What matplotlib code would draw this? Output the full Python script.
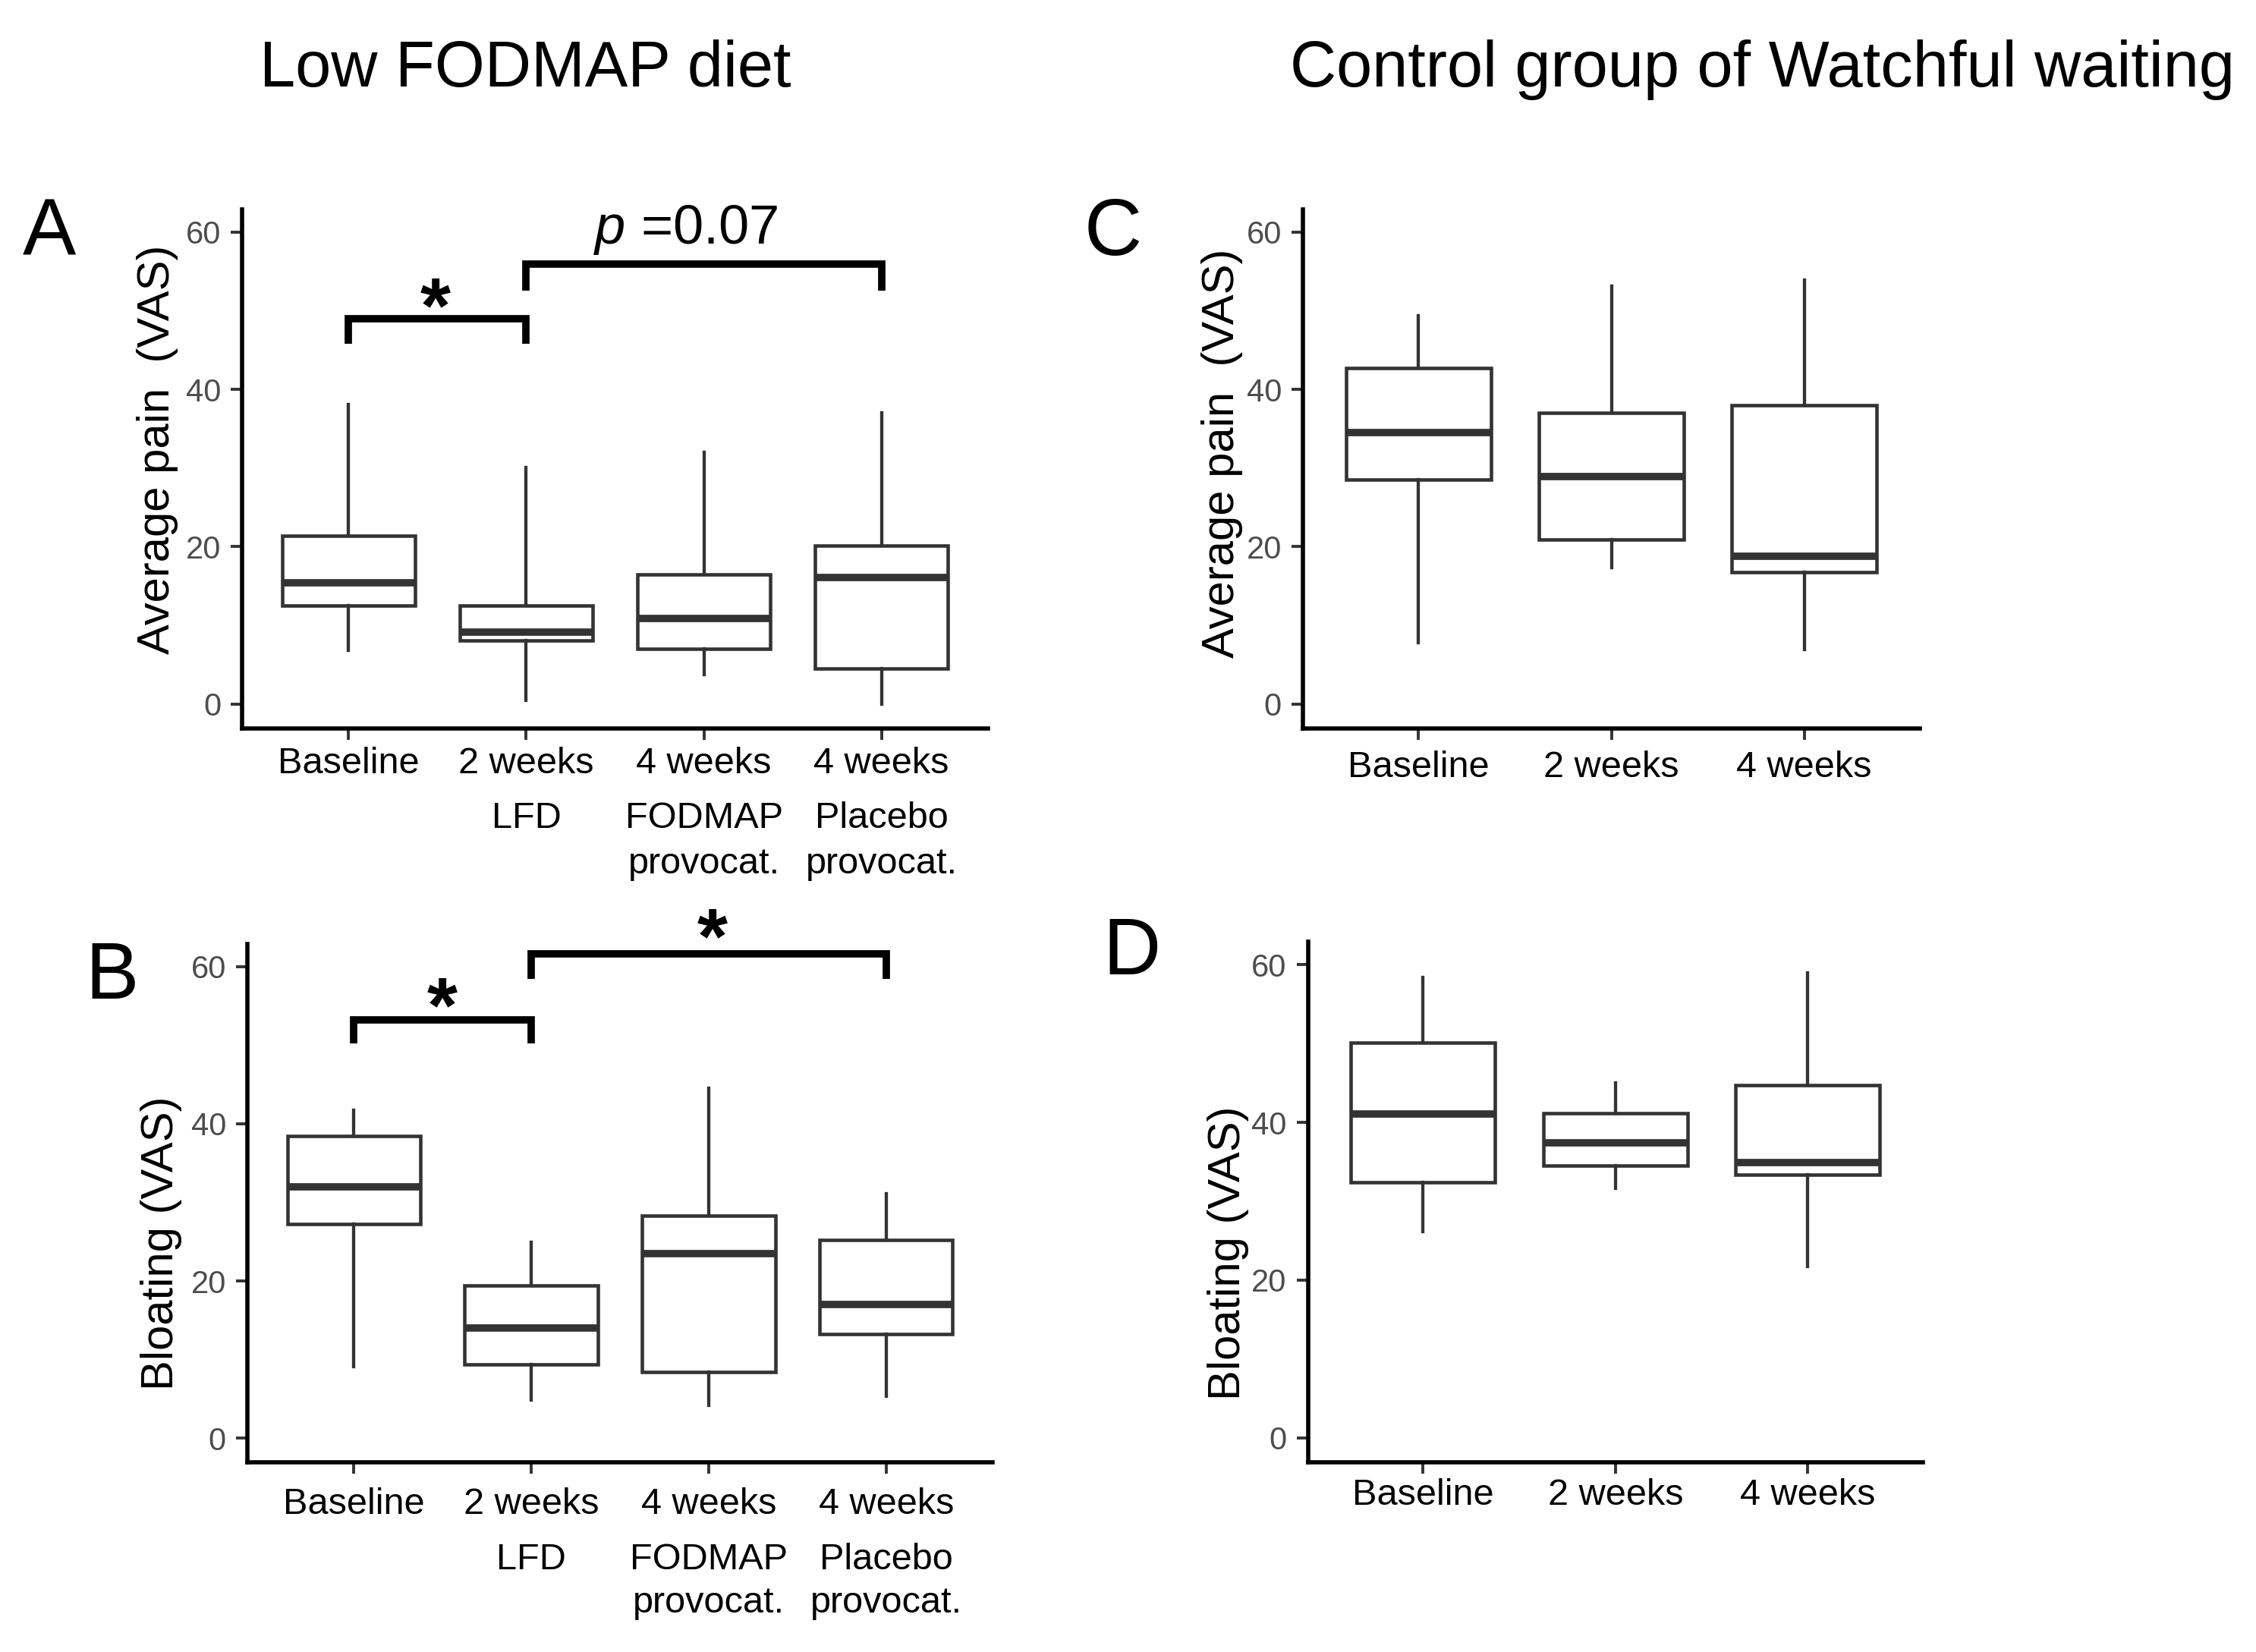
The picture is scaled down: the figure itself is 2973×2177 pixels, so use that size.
import matplotlib
matplotlib.use("Agg")
import matplotlib.pyplot as plt
from matplotlib.transforms import blended_transform_factory, offset_copy

plt.rcParams['font.family'] = ['Liberation Sans', 'DejaVu Sans']
plt.rcParams['mathtext.fontset'] = 'custom'
plt.rcParams['mathtext.rm'] = 'Liberation Sans'
plt.rcParams['mathtext.it'] = 'Liberation Sans:italic'

# ---------------- data ----------------
lfd_top = ['Baseline', '2 weeks', '4 weeks', '4 weeks']
lfd_sub = [[], ['LFD'], ['FODMAP', 'provocat.'], ['Placebo', 'provocat.']]
ww_labels = ['Baseline', '2 weeks', '4 weeks']

# each group: [whisker low, Q1, median, Q3, whisker high]
pain_lfd = [[6.8, 12.5, 15.4, 21.4, 38.1],
            [0.5, 8.1, 9.1, 12.5, 30.1],
            [3.7, 7.0, 10.9, 16.5, 32.0],
            [0.0, 4.5, 16.1, 20.1, 37.0]]
bloat_lfd = [[9.1, 27.3, 32.0, 38.5, 41.7],
             [4.9, 9.4, 14.0, 19.4, 24.9],
             [4.2, 8.4, 23.5, 28.3, 44.5],
             [5.3, 13.3, 17.0, 25.2, 31.1]]
pain_ww = [[7.8, 28.5, 34.5, 42.7, 49.4],
           [17.3, 20.9, 28.9, 37.0, 53.1],
           [6.9, 16.8, 18.8, 38.0, 53.9]]
bloat_ww = [[26.1, 32.4, 41.1, 50.1, 58.4],
            [31.6, 34.5, 37.4, 41.2, 45.0],
            [21.7, 33.4, 34.9, 44.7, 59.0]]

y_ticks = [0, 20, 40, 60]

# significance brackets: (x1, x2, top, leg end)
brackets_A = [(1, 2, 49.0, 45.8), (2, 4, 55.9, 52.5)]
brackets_B = [(1, 2, 53.2, 50.2), (2, 4, 61.6, 58.4)]

# ---------------- figure ----------------
W, H = 2973, 2177
DPI = 100
fig = plt.figure(figsize=(W / DPI, H / DPI), dpi=DPI)
PX = 72.0 / DPI  # points per pixel

BOX_C = '#333333'


def rect(l, r, t, b):
    return [l / W, 1 - b / H, (r - l) / W, (b - t) / H]


def make_panel(r, data, labels, base_px, axis_px):
    ax = fig.add_axes(r)
    stats = [dict(whislo=g[0], q1=g[1], med=g[2], q3=g[3], whishi=g[4], fliers=[])
             for g in data]
    pos = list(range(1, len(data) + 1))
    ax.bxp(stats, positions=pos, widths=0.75, showfliers=False, showcaps=False,
           patch_artist=True,
           boxprops=dict(facecolor='white', edgecolor=BOX_C, linewidth=3.3),
           medianprops=dict(color=BOX_C, linewidth=7, solid_capstyle='butt'),
           whiskerprops=dict(color=BOX_C, linewidth=3.1))
    ax.set_xlim(0.4, len(data) + 0.6)
    ax.set_ylim(-3.1, 62.9)
    for s in ['top', 'right']:
        ax.spines[s].set_visible(False)
    for s in ['left', 'bottom']:
        ax.spines[s].set_linewidth(4.0)
        ax.spines[s].set_color('black')
    ax.set_yticks(y_ticks)
    ax.set_yticklabels([str(v) for v in y_ticks])
    ax.tick_params(axis='y', length=15 * PX, width=2.8, color=BOX_C,
                   labelsize=30, labelcolor='#4D4D4D', pad=13 * PX)
    ax.set_xticks(pos)
    ax.set_xticklabels(labels)
    ax.tick_params(axis='x', length=15 * PX, width=2.8, color=BOX_C,
                   labelsize=35, labelcolor='black',
                   pad=(base_px - axis_px - 15) * PX)
    for lbl in ax.get_xticklabels():
        lbl.set_va('baseline')
    return ax


def sub_lines(ax, subs, baselines):
    tr = blended_transform_factory(ax.transData, fig.transFigure)
    for i, lines in enumerate(subs):
        for j, line in enumerate(lines):
            ax.text(i + 1, 1 - baselines[j] / H, line, transform=tr,
                    ha='center', va='baseline', fontsize=35, color='black',
                    clip_on=False)


def draw_brackets(ax, brs):
    for x1, x2, top, leg in brs:
        ax.plot([x1, x1, x2, x2], [leg, top, top, leg], color='black',
                linewidth=7, solid_joinstyle='miter', solid_capstyle='butt',
                clip_on=False, zorder=5)


def star(ax, x, yc, fs=74):
    tr = offset_copy(ax.transData, fig=fig, y=-0.58 * fs, units='points')
    ax.text(x, yc, '*', transform=tr, ha='center', va='baseline',
            fontsize=fs, fontweight='bold', color='black', clip_on=False)


# Panel A
axA = make_panel(rect(319, 1302, 275.5, 960), pain_lfd, lfd_top, 1019, 960)
sub_lines(axA, lfd_sub, [1091, 1151])
draw_brackets(axA, brackets_A)
star(axA, 1.49, 53.0)
axA.text(2.9, 58.5, r'$p$ =0.07', ha='center', va='baseline', fontsize=52,
         clip_on=False)

# Panel B
axB = make_panel(rect(326, 1308, 1243.8, 1927.4), bloat_lfd, lfd_top, 1995, 1927.4)
sub_lines(axB, lfd_sub, [2068, 2125])
draw_brackets(axB, brackets_B)
star(axB, 1.50, 57.4)
star(axB, 3.02, 66.2)

# Panel C
axC = make_panel(rect(1717, 2530, 275.5, 960), pain_ww, ww_labels, 1024, 960)
# Panel D
axD = make_panel(rect(1723.5, 2534, 1241, 1927), bloat_ww, ww_labels, 1983, 1927)

# y-axis labels
for (x, y, t) in [(208, 592, 'Average pain  (VAS)'), (1611, 597, 'Average pain  (VAS)'),
                  (212, 1638, 'Bloating (VAS)'), (1619, 1651, 'Bloating (VAS)')]:
    fig.text(x / W, 1 - y / H, t, rotation=90, ha='center', va='center',
             fontsize=43, color='black')

# column titles
fig.text(692 / W, 1 - 114 / H, 'Low FODMAP diet', ha='center', va='baseline',
         fontsize=61)
fig.text(2323 / W, 1 - 114 / H, 'Control group of Watchful waiting', ha='center',
         va='baseline', fontsize=61)

# panel letters
for (x, y, t) in [(65, 335, 'A'), (148, 1316, 'B'), (1467, 336, 'C'), (1491, 1284, 'D')]:
    fig.text(x / W, 1 - y / H, t, ha='center', va='baseline', fontsize=76)

fig.savefig('out.png', dpi=DPI, facecolor='white')
